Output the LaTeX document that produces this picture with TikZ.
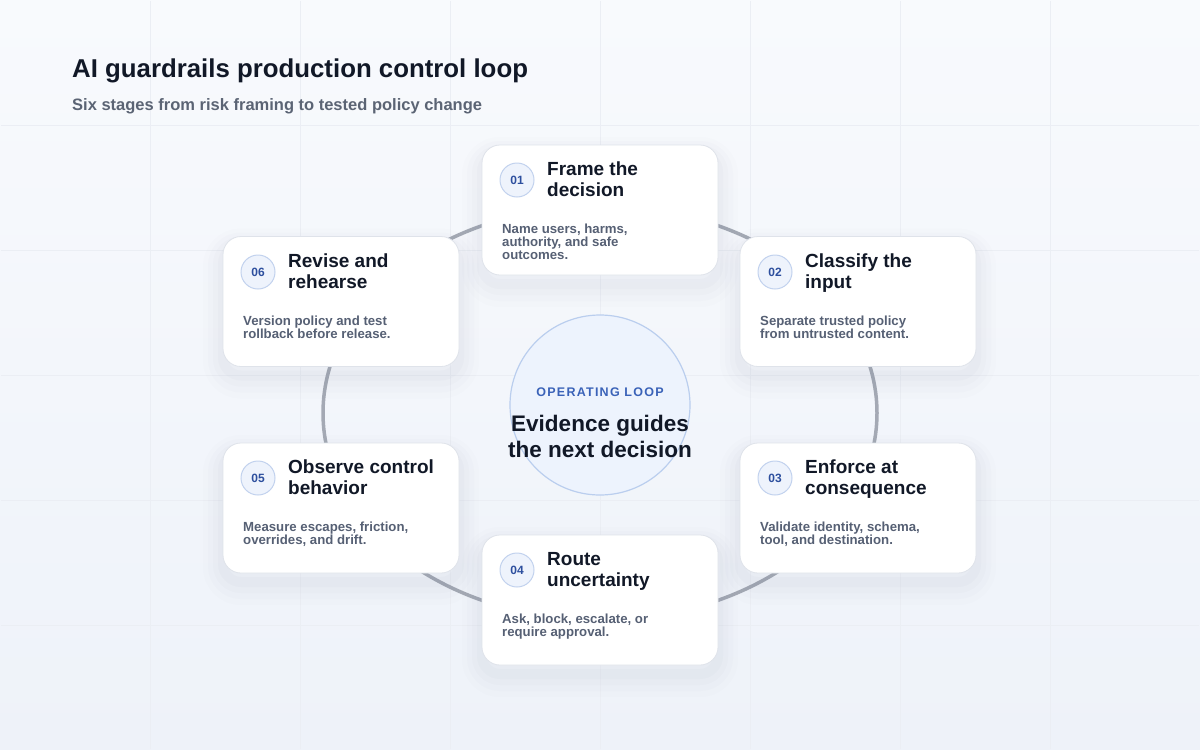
\documentclass[tikz,border=0pt]{standalone}
\usepackage{fontspec}
\setmainfont{Liberation Sans}
\newfontfamily\tagfont[LetterSpace=10]{Liberation Sans}
\usepackage{xcolor}
\usepackage{tikz}
\usetikzlibrary{shapes,shapes.geometric,positioning,calc}

\definecolor{ink}{HTML}{111827}
\definecolor{subgray}{HTML}{5B6474}
\definecolor{descgray}{HTML}{566074}
\definecolor{badgeblue}{HTML}{2D4F9E}
\definecolor{badgefill}{HTML}{EEF3FC}
\definecolor{badgeline}{HTML}{C2D2EE}
\definecolor{hubfill}{HTML}{EDF3FD}
\definecolor{hubline}{HTML}{BACEEE}
\definecolor{tagblue}{HTML}{3A62B8}
\definecolor{ringgray}{HTML}{A4A9B4}
\definecolor{cardline}{HTML}{DFE3EA}
\definecolor{shadowcol}{HTML}{5E6C8C}
\definecolor{bgtop}{HTML}{F8FAFD}
\definecolor{bgbot}{HTML}{EEF2F9}
\definecolor{gridcol}{HTML}{EBEEF4}

\tikzstyle{card} = [rectangle, draw=cardline, line width=0.8pt, fill=white, rounded corners=18pt, minimum width=236pt, minimum height=130pt,
  preaction={draw=shadowcol, line width=40pt, opacity=0.012, transform canvas={yshift=-12pt}},
  preaction={draw=shadowcol, line width=30pt, opacity=0.015, transform canvas={yshift=-11pt}},
  preaction={draw=shadowcol, line width=20pt, opacity=0.02, transform canvas={yshift=-10pt}},
  preaction={draw=shadowcol, line width=10pt, opacity=0.025, transform canvas={yshift=-9pt}}]
\tikzstyle{badge} = [circle, draw=badgeline, line width=1pt, fill=badgefill, minimum size=34pt, inner sep=0pt, text=badgeblue, font=\fontsize{12}{12}\selectfont\bfseries]
\tikzstyle{cardtitle} = [anchor=north west, align=left, inner sep=0pt, text=ink, font=\fontsize{19}{21}\selectfont\bfseries]
\tikzstyle{carddesc} = [anchor=north west, align=left, inner sep=0pt, text=descgray, font=\fontsize{13.2}{13}\selectfont\bfseries]
\tikzstyle{hub} = [circle, draw=hubline, line width=1.2pt, fill=hubfill, minimum size=180pt, inner sep=0pt]
\tikzstyle{loopring} = [ellipse, draw=ringgray, line width=3.5pt, minimum width=554pt, minimum height=414pt, inner sep=0pt]

\begin{document}
\begin{tikzpicture}[x=1pt, y=-1pt]
    % Background and grid
    \fill[top color=bgtop, bottom color=bgbot] (0,0) rectangle (1200,750);
    \draw[gridcol, line width=0.8pt, xstep=150pt, ystep=125pt] (1,749) grid (1199,1);

    % Heading
    \node[anchor=base west, inner sep=0pt, text=ink, font=\fontsize{25.8}{30}\selectfont\bfseries] (title) at (72,77) {AI guardrails production control loop};
    \node[anchor=base west, inner sep=0pt, text=subgray, font=\fontsize{16.5}{20}\selectfont\bfseries] (subtitle) at (72,110) {Six stages from risk framing to tested policy change};

    % Loop ring behind the stages
    \node[loopring] (loop) at (600,413) {};

    % Centre hub
    \node[hub] (hub) at (600,405) {};
    \node[inner sep=0pt, text=tagblue, font=\fontsize{12.5}{14}\tagfont\bfseries] (hubtag) at (600,392) {OPERATING LOOP};
    \node[inner sep=0pt, align=center, text=ink, font=\fontsize{22.5}{26}\selectfont\bfseries] (hubtext) at (600,436) {Evidence guides\\the next decision};

    % Stage 01
    \node[card] (s1) at (600,210) {};
    \node[badge] (b1) at (517,180) {01};
    \node[cardtitle] (t1) at (547,162) {Frame the\\decision};
    \node[carddesc] (d1) at (502,224) {Name users, harms,\\authority, and safe\\outcomes.};

    % Stage 02
    \node[card] (s2) at (858,301.5) {};
    \node[badge] (b2) at (775,272) {02};
    \node[cardtitle] (t2) at (805,254) {Classify the\\input};
    \node[carddesc] (d2) at (760,316) {Separate trusted policy\\from untrusted content.};

    % Stage 03
    \node[card] (s3) at (858,508) {};
    \node[badge] (b3) at (775,478) {03};
    \node[cardtitle] (t3) at (805,460) {Enforce at\\consequence};
    \node[carddesc] (d3) at (760,522) {Validate identity, schema,\\tool, and destination.};

    % Stage 04
    \node[card] (s4) at (600,600) {};
    \node[badge] (b4) at (517,570) {04};
    \node[cardtitle] (t4) at (547,552) {Route\\uncertainty};
    \node[carddesc] (d4) at (502,614) {Ask, block, escalate, or\\require approval.};

    % Stage 05
    \node[card] (s5) at (341,508) {};
    \node[badge] (b5) at (258,478) {05};
    \node[cardtitle] (t5) at (288,460) {Observe control\\behavior};
    \node[carddesc] (d5) at (243,522) {Measure escapes, friction,\\overrides, and drift.};

    % Stage 06
    \node[card] (s6) at (341,301.5) {};
    \node[badge] (b6) at (258,272) {06};
    \node[cardtitle] (t6) at (288,254) {Revise and\\rehearse};
    \node[carddesc] (d6) at (243,316) {Version policy and test\\rollback before release.};
\end{tikzpicture}
\end{document}
